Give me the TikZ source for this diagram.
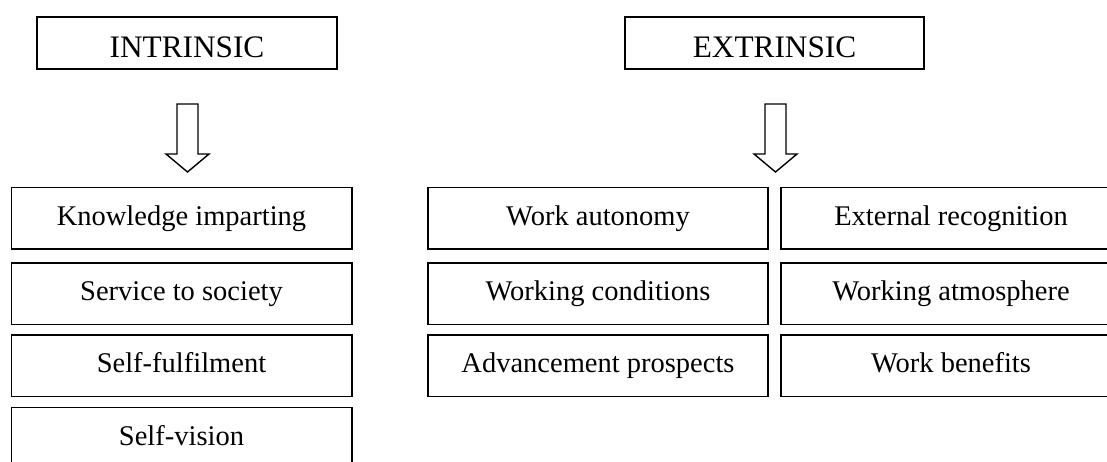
\documentclass[tikz,border=0pt]{standalone}
\usepackage{fontspec}
\setmainfont{Liberation Serif}
\begin{document}
\begin{tikzpicture}[x=1pt,y=-1pt,
  box/.style={draw=black,line width=1.5pt,inner sep=0pt,minimum height=#1,
    font=\fontsize{28.5}{34}\selectfont,text=black,text height=20pt,text depth=6pt},
  box/.default=61pt,
  head/.style={box=52pt,minimum width=300pt,font=\fontsize{31.3}{36}\selectfont,
    text height=28pt,text depth=0pt},
  item/.style={box=61.5pt,minimum width=340.5pt},
  blockarrow/.pic={
    \draw[line width=1.4pt,line join=miter,fill=white]
      (-10.5,0) -- (10.5,0) -- (10.5,50) -- (21.5,50) -- (0,68) -- (-21.5,50) -- (-10.5,50) -- cycle;
  }]
\useasboundingbox (0,0) rectangle (1107,461);
\node[head] (intr) at (187,43) {INTRINSIC};
\node[head,minimum width=299pt] (extr) at (774.5,43) {EXTRINSIC};
\coordinate (ai) at (187.5,104);
\coordinate (ae) at (775.5,104);
\pic at (ai) {blockarrow};
\pic at (ae) {blockarrow};
\node[item] (k) at (181.5,218) {Knowledge imparting};
\node[item] (s) at (181.5,293.5) {Service to society};
\node[item] (f) at (181.5,365.5) {Self-fulfilment};
\node[item] (v) at (181.5,438) {Self-vision};
\node[item,minimum width=340pt] (wa) at (598,218) {Work autonomy};
\node[item,minimum width=340pt] (wc) at (598,293.5) {Working conditions};
\node[item,minimum width=340pt] (ap) at (598,365.5) {Advancement prospects};
\node[item,minimum width=340pt] (er) at (951,218) {External recognition};
\node[item,minimum width=340pt] (wm) at (951,293.5) {Working atmosphere};
\node[item,minimum width=340pt] (wb) at (951,365.5) {Work benefits};
\end{tikzpicture}
\end{document}
